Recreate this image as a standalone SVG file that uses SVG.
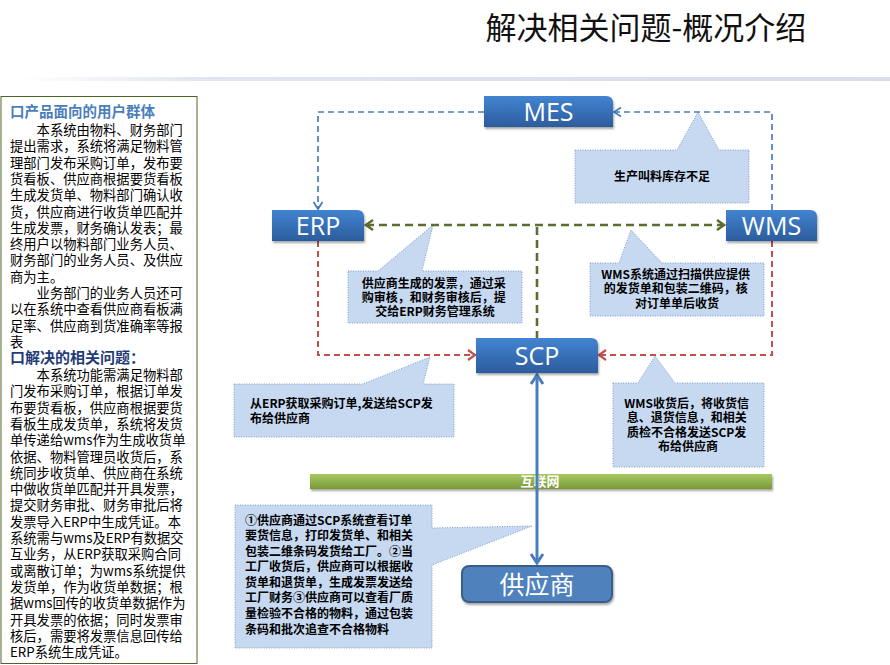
<svg xmlns="http://www.w3.org/2000/svg" width="890" height="665" viewBox="0 0 890 665">
<style>
  text { font-family: "Noto Sans CJK SC", "Noto Sans", sans-serif; }
  .title { font-size: 31px; fill: #111; }
  .body { font-size: 13.3px; fill: #000; }
  .h1 { font-size: 14.5px; font-weight: bold; fill: #4A7EBB; }
  .h2 { font-size: 15px; font-weight: bold; fill: #1F3C78; }
  .node { stroke: none; filter: url(#sh); }
  .nlabel { font-family: "Open Sans", "Noto Sans", sans-serif; font-size: 25px; fill: #fff; text-anchor: middle; }
  .callout { fill: #C6D9F1; stroke: #7E9CC6; stroke-width: 1; stroke-dasharray: 1 1.5; }
  .ct { font-size: 12px; font-weight: bold; fill: #000; }
  .mid { text-anchor: middle; }
  .blued { fill: none; stroke: #4A7EBB; stroke-width: 1.7; stroke-dasharray: 6 4; }
  .greend { fill: none; stroke: #5A6E31; stroke-width: 2.6; stroke-dasharray: 8 5; }
  .redd { fill: none; stroke: #C0504D; stroke-width: 2; stroke-dasharray: 6 4; }
  .blues { fill: none; stroke: #4A7EBB; stroke-width: 3; }
</style>
<defs>
  <linearGradient id="ng" x1="0" y1="0" x2="0" y2="1">
    <stop offset="0" stop-color="#4384D2"/>
    <stop offset="1" stop-color="#2B5C9C"/>
  </linearGradient>
  <linearGradient id="gg" x1="0" y1="0" x2="0" y2="1">
    <stop offset="0" stop-color="#A7C763"/>
    <stop offset="1" stop-color="#779A38"/>
  </linearGradient>
  <linearGradient id="lg" x1="0" y1="0" x2="1" y2="0">
    <stop offset="0" stop-color="#FFFFFF"/>
    <stop offset="0.2" stop-color="#E2E6EE"/>
    <stop offset="1" stop-color="#D8DDE6"/>
  </linearGradient>
  <filter id="sh" x="-10%" y="-20%" width="130%" height="160%">
    <feDropShadow dx="1" dy="2" stdDeviation="1.3" flood-color="#000" flood-opacity="0.35"/>
  </filter>
  <marker id="mb" markerUnits="userSpaceOnUse" markerWidth="12" markerHeight="12" refX="9" refY="6" orient="auto-start-reverse">
    <path d="M2,1.5 L9,6 L2,10.5" fill="none" stroke="#4A7EBB" stroke-width="1.8" stroke-dasharray="none"/>
  </marker>
  <marker id="mg" markerUnits="userSpaceOnUse" markerWidth="12" markerHeight="14" refX="9" refY="7" orient="auto-start-reverse">
    <path d="M2,2 L9,7 L2,12" fill="none" stroke="#5A6E31" stroke-width="2.6" stroke-dasharray="none"/>
  </marker>
  <marker id="mr" markerUnits="userSpaceOnUse" markerWidth="12" markerHeight="14" refX="9" refY="7" orient="auto-start-reverse">
    <path d="M2,2 L9,7 L2,12" fill="none" stroke="#C0504D" stroke-width="2.2" stroke-dasharray="none"/>
  </marker>
  <marker id="ms" markerUnits="userSpaceOnUse" markerWidth="16" markerHeight="16" refX="12" refY="8" orient="auto-start-reverse">
    <path d="M3,2 L12,8 L3,14" fill="none" stroke="#4A7EBB" stroke-width="3" stroke-dasharray="none"/>
  </marker>
</defs>

<rect width="890" height="665" fill="#fff"/>

<!-- title -->
<text class="title" x="646" y="39" text-anchor="middle">解决相关问题-概况介绍</text>
<rect x="20" y="77" width="870" height="4" fill="url(#lg)"/>

<!-- left text panel -->
<g id="left-panel">
  <rect x="1" y="96.5" width="196" height="567" fill="#fff" stroke="#4F6228" stroke-width="1"/>
  <text class="h1" x="10" y="117">口产品面向的用户群体</text>
  <text class="body">
    <tspan x="36.6" y="135">本系统由物料、财务部门</tspan>
    <tspan x="10" y="151.3">提出需求，系统将满足物料管</tspan>
    <tspan x="10" y="167.6">理部门发布采购订单，发布要</tspan>
    <tspan x="10" y="183.9">货看板、供应商根据要货看板</tspan>
    <tspan x="10" y="200.2">生成发货单、物料部门确认收</tspan>
    <tspan x="10" y="216.5">货，供应商进行收货单匹配并</tspan>
    <tspan x="10" y="232.8">生成发票，财务确认发表；最</tspan>
    <tspan x="10" y="249.1">终用户以物料部门业务人员、</tspan>
    <tspan x="10" y="265.4">财务部门的业务人员、及供应</tspan>
    <tspan x="10" y="281.7">商为主。</tspan>
    <tspan x="36.6" y="298">业务部门的业务人员还可</tspan>
    <tspan x="10" y="314.3">以在系统中查看供应商看板满</tspan>
    <tspan x="10" y="330.6">足率、供应商到货准确率等报</tspan>
    <tspan x="10" y="346.9">表</tspan>
  </text>
  <text class="h2" x="10" y="363">口解决的相关问题：</text>
  <text class="body">
    <tspan x="36.6" y="380">本系统功能需满足物料部</tspan>
    <tspan x="10" y="396.3">门发布采购订单，根据订单发</tspan>
    <tspan x="10" y="412.6">布要货看板，供应商根据要货</tspan>
    <tspan x="10" y="428.9">看板生成发货单，系统将发货</tspan>
    <tspan x="10" y="445.2">单传递给wms作为生成收货单</tspan>
    <tspan x="10" y="461.5">依据、物料管理员收货后，系</tspan>
    <tspan x="10" y="477.8">统同步收货单、供应商在系统</tspan>
    <tspan x="10" y="494.1">中做收货单匹配并开具发票，</tspan>
    <tspan x="10" y="510.4">提交财务审批、财务审批后将</tspan>
    <tspan x="10" y="526.7">发票导入ERP中生成凭证。本</tspan>
    <tspan x="10" y="543">系统需与wms及ERP有数据交</tspan>
    <tspan x="10" y="559.3">互业务，从ERP获取采购合同</tspan>
    <tspan x="10" y="575.6">或离散订单；为wms系统提供</tspan>
    <tspan x="10" y="591.9">发货单，作为收货单数据；根</tspan>
    <tspan x="10" y="608.2">据wms回传的收货单数据作为</tspan>
    <tspan x="10" y="624.5">开具发票的依据；同时发票审</tspan>
    <tspan x="10" y="640.8">核后，需要将发票信息回传给</tspan>
    <tspan x="10" y="657.1">ERP系统生成凭证。</tspan>
  </text>
</g>

<!-- internet bar -->
<g id="internet">
  <rect x="310" y="474" width="462" height="15" fill="url(#gg)" filter="url(#sh)"/>
  <text x="540" y="486" text-anchor="middle" font-size="13" font-weight="bold" fill="#fff">互联网</text>
</g>

<!-- callouts -->
<g id="callout-mes">
  <path class="callout" d="M575,150 H677 L698,112 L719,150 H749 V203 H575 Z"/>
  <text class="ct mid" x="662" y="180.5">生产叫料库存不足</text>
</g>
<g id="callout-erp">
  <path class="callout" d="M348,271 H378 L433,225 L422,271 H522 V323 H348 Z"/>
  <text class="ct mid">
    <tspan x="435" y="287.5">供应商生成的发票，通过采</tspan>
    <tspan x="435" y="301.5">购审核，和财务审核后，提</tspan>
    <tspan x="435" y="315.5">交给ERP财务管理系统</tspan>
  </text>
</g>
<g id="callout-wms">
  <path class="callout" d="M590,263 H619 L631,230 L662,263 H764 V316 H590 Z"/>
  <text class="ct mid">
    <tspan x="677" y="278.5">WMS系统通过扫描供应提供</tspan>
    <tspan x="677" y="293">的发货单和包装二维码，核</tspan>
    <tspan x="677" y="307.5">对订单单后收货</tspan>
  </text>
</g>
<g id="callout-erp-scp">
  <path class="callout" d="M234,384 H363 L430,357 L423,384 H454 V437 H234 Z"/>
  <text class="ct">
    <tspan x="250" y="407.5">从ERP获取采购订单,发送给SCP发</tspan>
    <tspan x="250" y="423">布给供应商</tspan>
  </text>
</g>
<g id="callout-wms-scp">
  <path class="callout" d="M613,383 H638 L655,356 L675,383 H764 V467 H613 Z"/>
  <text class="ct mid">
    <tspan x="688" y="407.5">WMS收货后，将收货信</tspan>
    <tspan x="688" y="422">息、退货信息，和相关</tspan>
    <tspan x="688" y="436.5">质检不合格发送SCP发</tspan>
    <tspan x="688" y="451">布给供应商</tspan>
  </text>
</g>
<g id="callout-supplier">
  <path class="callout" d="M235,505 H432 V528 L532,526 L432,565 V648 H235 Z"/>
  <text class="ct">
    <tspan x="245" y="524.5">①供应商通过SCP系统查看订单</tspan>
    <tspan x="245" y="540">要货信息，打印发货单、和相关</tspan>
    <tspan x="245" y="555.6">包装二维条码发货给工厂。②当</tspan>
    <tspan x="245" y="571.2">工厂收货后，供应商可以根据收</tspan>
    <tspan x="245" y="586.8">货单和退货单，生成发票发送给</tspan>
    <tspan x="245" y="602.4">工厂财务③供应商可以查看厂质</tspan>
    <tspan x="245" y="618">量检验不合格的物料，通过包装</tspan>
    <tspan x="245" y="633.6">条码和批次追查不合格物料</tspan>
  </text>
</g>

<!-- connectors -->
<g id="connectors">
  <path class="blued" d="M484,112 H318 V209" marker-end="url(#mb)"/>
  <path class="blued" d="M772,210 V112 H614" marker-end="url(#mb)"/>
  <path class="greend" d="M366,225 H724" marker-start="url(#mg)" marker-end="url(#mg)"/>
  <path class="greend" d="M537,227 V338"/>
  <path class="redd" d="M318,241 V355 H475" marker-end="url(#mr)"/>
  <path class="redd" d="M772,241 V355 H599" marker-end="url(#mr)"/>
  <path class="blues" d="M537,375 V563" marker-start="url(#ms)" marker-end="url(#ms)"/>
</g>

<!-- nodes -->
<g id="node-mes">
  <path class="node" d="M484,96 H606 Q613,96 613,103 V127 H484 Z" fill="url(#ng)"/>
  <text class="nlabel" x="548.5" y="121">MES</text>
</g>
<g id="node-erp">
  <path class="node" d="M272,210 H357 Q364,210 364,217 V241 H272 Z" fill="url(#ng)"/>
  <text class="nlabel" x="318" y="235">ERP</text>
</g>
<g id="node-wms">
  <path class="node" d="M726,210 H810 Q817,210 817,217 V241 H726 Z" fill="url(#ng)"/>
  <text class="nlabel" x="771.5" y="235">WMS</text>
</g>
<g id="node-scp">
  <path class="node" d="M476,338 H591 Q598,338 598,345 V373 H476 Z" fill="url(#ng)"/>
  <text class="nlabel" x="537" y="365">SCP</text>
</g>
<g id="node-supplier">
  <rect x="462" y="566" width="150" height="36" rx="7" fill="#4F81BD" stroke="#385D8A" stroke-width="2" filter="url(#sh)"/>
  <text x="537" y="594" text-anchor="middle" font-size="25" fill="#fff">供应商</text>
</g>
</svg>
